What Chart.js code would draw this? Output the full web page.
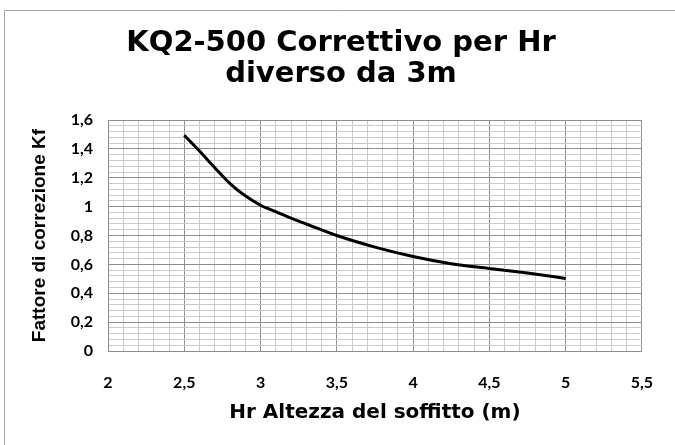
<!DOCTYPE html>
<html>
<head>
<meta charset="utf-8">
<script src="https://cdn.jsdelivr.net/npm/chart.js@4"></script>
<style>
  html, body { margin: 0; padding: 0; background: #fff; }
  #wrap { position: absolute; left: 0; top: 0; width: 675px; height: 445px; }
</style>
</head>
<body>
<div id="wrap"><canvas id="c" width="675" height="445"></canvas></div>
<script>
const chartTitle = ['KQ2-500 Correttivo per Hr', 'diverso da 3m'];
const xAxisTitle = 'Hr Altezza del soffitto (m)';
const yAxisTitle = 'Fattore di correzione Kf';
const hrValues = [2.5, 2.6, 2.7, 2.8, 2.9, 3.0, 3.1, 3.2, 3.3, 3.5, 3.75, 4.0, 4.25, 4.5, 4.75, 5.0];
const kfValues = [1.495, 1.385, 1.27, 1.16, 1.075, 1.01, 0.965, 0.92, 0.88, 0.80, 0.72, 0.655, 0.605, 0.572, 0.54, 0.503];
const xMin = 2, xMax = 5.5, xMinorStep = 0.1, xMajorStep = 0.5;
const yMin = 0, yMax = 1.6, yMinorStep = 0.04, yMajorStep = 0.2;

const points = hrValues.map((x, i) => ({ x: x, y: kfValues[i] }));
const isMult = (v, step) => Math.abs(v / step - Math.round(v / step)) < 1e-6;
const fmt = v => String(Math.round(v * 10) / 10).replace('.', ',');
const majorColor = '#8e8e8e', minorColor = '#cbcbcb';

const frame = {
  id: 'frame',
  afterDraw(chart) {
    const ctx = chart.ctx;
    ctx.save();
    ctx.strokeStyle = '#a6a6a6';
    ctx.lineWidth = 1;
    ctx.beginPath();
    ctx.moveTo(4.5, 445);
    ctx.lineTo(4.5, 10.5);
    ctx.lineTo(675, 10.5);
    ctx.stroke();
    ctx.restore();
  }
};

new Chart(document.getElementById('c'), {
  type: 'line',
  data: {
    datasets: [{
      data: points,
      borderColor: '#000',
      borderWidth: 3,
      pointRadius: 0,
      fill: false,
      cubicInterpolationMode: 'monotone'
    }]
  },
  options: {
    responsive: false,
    animation: false,
    layout: { padding: { left: 7, right: 0, top: 0, bottom: 0 } },
    plugins: {
      legend: { display: false },
      tooltip: { enabled: false },
      title: {
        display: true,
        text: chartTitle,
        color: '#000',
        font: { family: 'DejaVu Sans', size: 29, weight: 'bold', lineHeight: 1.07 },
        padding: { top: 28, bottom: 30 }
      }
    },
    scales: {
      x: {
        type: 'linear',
        min: xMin, max: xMax,
        afterFit(s) { s.height = 94; },
        border: { color: majorColor, width: 1 },
        grid: {
          drawTicks: false,
          color: c => (c.tick && isMult(c.tick.value, xMajorStep)) ? majorColor : minorColor
        },
        ticks: {
          stepSize: xMinorStep,
          autoSkip: false,
          maxRotation: 0,
          padding: 22,
          color: '#000',
          font: { family: 'Lato', size: 16, weight: 'bold' },
          callback: v => isMult(v, xMajorStep) ? fmt(v) : ''
        },
        title: {
          display: true,
          text: xAxisTitle,
          color: '#000',
          font: { family: 'DejaVu Sans', size: 20, weight: 'bold' },
          padding: { top: 0, bottom: 20 }
        }
      },
      y: {
        type: 'linear',
        min: yMin, max: yMax,
        afterFit(s) { s.width = 101; },
        border: { color: majorColor, width: 1 },
        grid: {
          drawTicks: false,
          color: c => (c.tick && isMult(c.tick.value, yMajorStep)) ? majorColor : minorColor
        },
        ticks: {
          stepSize: yMinorStep,
          autoSkip: false,
          padding: 15,
          color: '#000',
          font: { family: 'Lato', size: 16, weight: 'bold' },
          callback: v => isMult(v, yMajorStep) ? fmt(v) : ''
        },
        title: {
          display: true,
          text: yAxisTitle,
          color: '#000',
          font: { family: 'Liberation Sans', size: 19, weight: 'bold' },
          padding: { top: 21, bottom: 0 }
        }
      },
      yRight: {
        type: 'linear',
        position: 'right',
        afterFit(s) { s.width = 26; },
        border: { display: false },
        grid: { display: false, drawTicks: false },
        ticks: { display: false }
      }
    }
  },
  plugins: [frame]
});
</script>
</body>
</html>
